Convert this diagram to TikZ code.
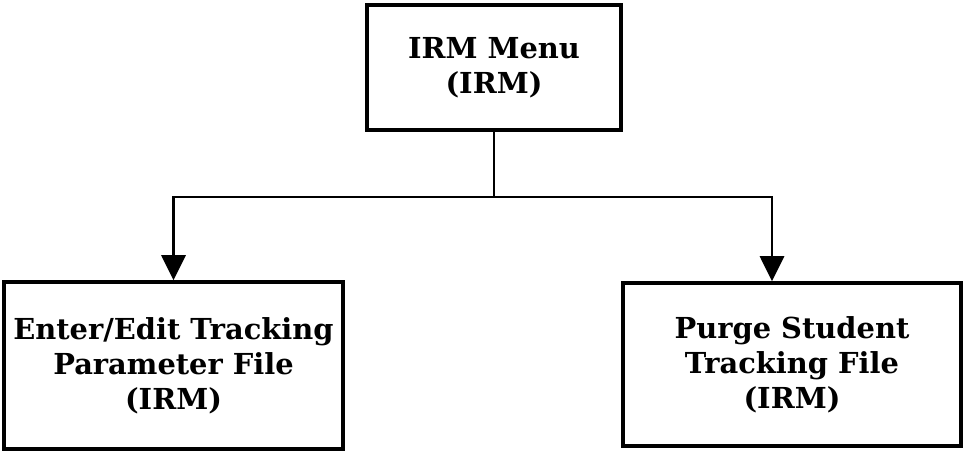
\documentclass[tikz,border=0pt]{standalone}
\usepackage{fontspec}
\setmainfont{DejaVu Serif}
\usetikzlibrary{arrows.meta}

\begin{document}
\begin{tikzpicture}[x=1bp,y=-1bp,
        box/.style={draw,line width=3.5bp,align=center,inner sep=0pt,font=\fontsize{29}{35}\selectfont\bfseries},
        link/.style={line width=2.8bp},
        tip/.style={link,-{Triangle[width=24bp,length=25bp]}}]
        \useasboundingbox (0,0) rectangle (965,451);
        \node[box,minimum width=254bp,minimum height=125bp] (menu) at (494,67.5) {IRM Menu\\(IRM)};
        \node[box,minimum width=339bp,minimum height=167bp] (enter) at (173.5,365.5) {Enter/Edit Tracking\\Parameter File\\(IRM)};
        \node[box,minimum width=338bp,minimum height=163bp] (purge) at (792,364.5) {Purge Student\\Tracking File\\(IRM)};
        \coordinate (split) at (494,197);
        \draw[link] (menu.south) -- (split);
        \draw[tip] (split) -| (enter.north);
        \draw[tip] (split) -| ([xshift=-20bp]purge.north);
    \end{tikzpicture}
\end{document}
